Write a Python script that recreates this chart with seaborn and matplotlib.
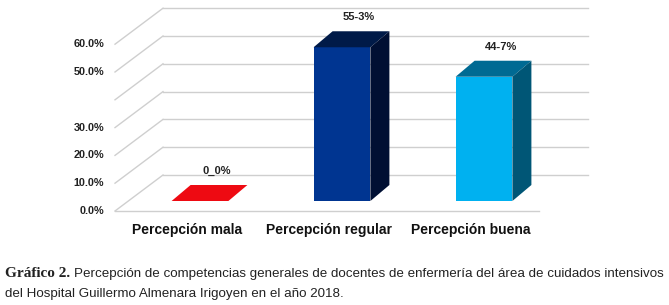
import matplotlib
matplotlib.use("Agg")
import matplotlib.pyplot as plt
from matplotlib.patches import Polygon
import pandas as pd
import seaborn as sns

# --- DATA ---
categories = ["Percepción mala", "Percepción regular", "Percepción buena"]
values = [0.0, 55.3, 44.7]
value_labels = ["0_0%", "55-3%", "44-7%"]
tick_values = [0, 10, 20, 30, 40, 50, 60]
tick_labels = ["0.0%", "10.0%", "20.0%", "30.0%", "", "50.0%", "60.0%"]
front_colors = ["#ee0a12", "#003591", "#00b1f0"]
top_colors = ["#ee0a12", "#001a48", "#006a93"]
side_colors = ["#b00008", "#000f33", "#005676"]
caption_bold = "Gráfico 2."
caption_line1 = ("Percepción de competencias generales de docentes de enfermería "
                 "del área de cuidados intensivos")
caption_line2 = "del Hospital Guillermo Almenara Irigoyen en el año 2018."

df = pd.DataFrame({"categoria": categories, "valor": values})

sans = ["Liberation Sans Narrow", "Liberation Sans", "DejaVu Sans"]
serif = ["Liberation Serif", "DejaVu Serif"]

# --- GEOMETRY (pixels) ---
W, H = 669, 305
X0, XSTEP = 200, 142      # first category centre, spacing between categories
Y0, YSTEP = 201, 2.78     # bar base, pixels per 1 %
DEPTH_X, DEPTH_Y = 19, 16  # bar depth offset


def dx(p):
    return p / XSTEP


def dy(p):
    return p / YSTEP


def xdata(p):
    return (p - X0) / XSTEP


def ydata(p):
    return (Y0 - p) / YSTEP


fig = plt.figure(figsize=(W / 100, H / 100), dpi=100)
ax = fig.add_axes([0, 0, 1, 1])

# front faces of the bars
sns.barplot(data=df, x="categoria", y="valor", hue="categoria",
            palette=front_colors, width=0.4, legend=False,
            saturation=1, ax=ax, zorder=3, linewidth=0)

ax.set_xlim(xdata(0), xdata(W))
ax.set_ylim(ydata(H), ydata(0))
ax.axis("off")

# --- 3D FRAME: back wall grid + floor diagonals ---
grid_c = "#cfcfcf"
front_left, back_left, back_right, floor_right = 115, 163, 588, 539
front_zero, back_zero = 211, 175
for t, lab in zip(tick_values, tick_labels):
    yf = ydata(front_zero) + t
    yb = ydata(back_zero) + t
    ax.plot([xdata(front_left), xdata(back_left)], [yf, yb], color=grid_c, lw=1, zorder=1)
    ax.plot([xdata(back_left), xdata(back_right)], [yb, yb], color=grid_c, lw=1, zorder=1)
    ax.text(xdata(104), yf, lab, ha="right", va="center", fontsize=7.8,
            fontweight="bold", family=sans, color="#222222")
ax.plot([xdata(front_left), xdata(floor_right)], [ydata(front_zero)] * 2,
        color=grid_c, lw=1, zorder=1)

# --- TOP AND SIDE FACES ---
for i, patch in enumerate(ax.patches):
    x0 = patch.get_x()
    x1 = x0 + patch.get_width()
    h = patch.get_height()
    top = [(x0, h), (x1, h), (x1 + dx(DEPTH_X), h + dy(DEPTH_Y)), (x0 + dx(DEPTH_X), h + dy(DEPTH_Y))]
    ax.add_patch(Polygon(top, closed=True, facecolor=top_colors[i], edgecolor="none", zorder=3))
    if h > 0:
        side = [(x1, 0), (x1 + dx(DEPTH_X), dy(DEPTH_Y)),
                (x1 + dx(DEPTH_X), h + dy(DEPTH_Y)), (x1, h)]
        ax.add_patch(Polygon(side, closed=True, facecolor=side_colors[i], edgecolor="none", zorder=3))
    ax.text(x0 + patch.get_width() / 2 + dx(17), h + dy(30), value_labels[i],
            ha="center", va="center", fontsize=8, fontweight="bold", family=sans,
            color="#222222")

# category labels
for i, cat in enumerate(categories):
    ax.text(i - dx(13), ydata(230), cat, ha="center", va="center", fontsize=10,
            fontweight="semibold", family=sans, color="#111111")

# --- CAPTION ---
b = fig.text(5 / W, 1 - 277 / H, caption_bold, ha="left", va="baseline",
             fontsize=11, fontweight="bold", family=serif, color="#222222")
ax.annotate(caption_line1, xy=(1, 0), xycoords=b, xytext=(3, 0),
            textcoords="offset points", va="bottom", ha="left",
            fontsize=9.6, family=sans, color="#222222", annotation_clip=False)
fig.text(5 / W, 1 - 297 / H, caption_line2, ha="left", va="baseline",
         fontsize=9.6, family=sans, color="#222222")

fig.savefig("out.png", dpi=100)
